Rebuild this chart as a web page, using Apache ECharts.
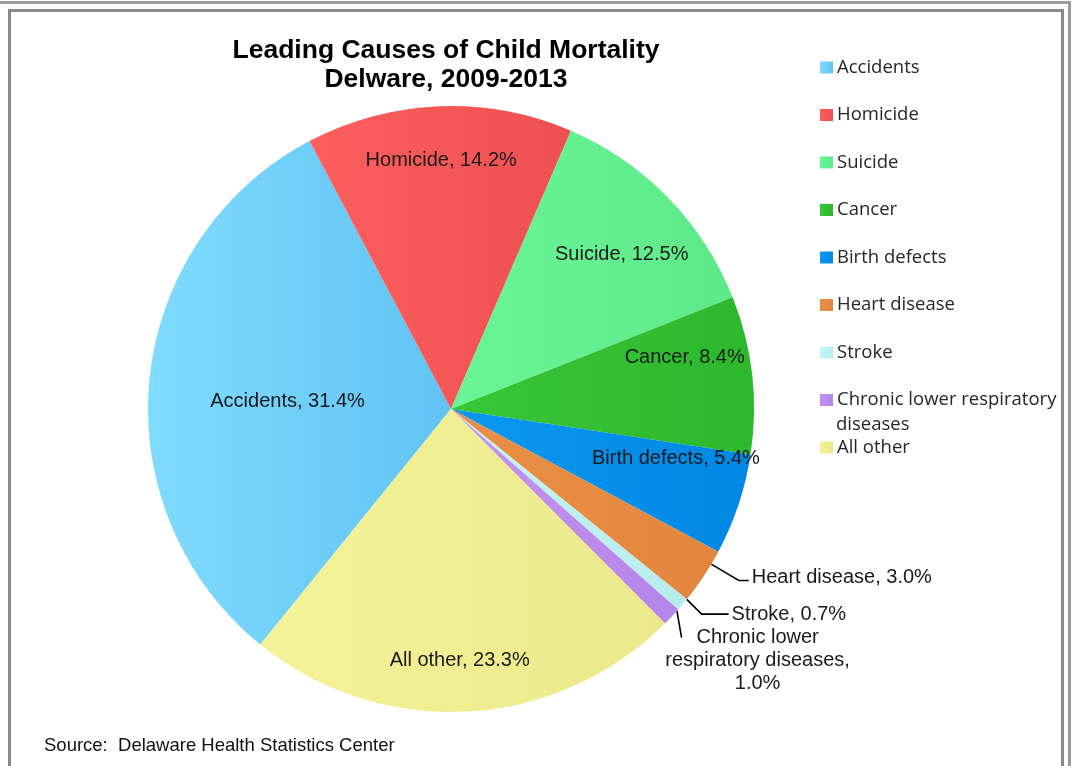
<!DOCTYPE html>
<html>
<head>
<meta charset="utf-8">
<script src="https://cdn.jsdelivr.net/npm/echarts@6/dist/echarts.min.js"></script>
<style>
html,body{margin:0;padding:0;background:#fff;}
#chart{width:1073px;height:766px;}
</style>
</head>
<body>
<div id="chart"></div>
<script>
// ---- data ----
const categories = ['Accidents', 'Homicide', 'Suicide', 'Cancer', 'Birth defects', 'Heart disease', 'Stroke', 'Chronic lower respiratory diseases', 'All other'];
const percentValues = [31.4, 14.2, 12.5, 8.4, 5.4, 3.0, 0.7, 1.0, 23.3];
const titleLines = ['Leading Causes of Child Mortality', 'Delware, 2009-2013'];
const sourceText = 'Source:  Delaware Health Statistics Center';

// ---- styles / layout ----
const sliceColors = [
  ['#7fdbff', '#62c3f3'],
  ['#fd5f5f', '#ee4f50'],
  ['#6af697', '#5de98a'],
  ['#37c737', '#2db82d'],
  ['#0a98f2', '#0087e4'],
  ['#ea9046', '#e2863d'],
  ['#c6f4f4', '#b8ecec'],
  ['#c493f2', '#b685e8'],
  ['#f4f39a', '#ebe98b']
];
const CX = 451, CY = 409, R = 303, START = 231;
const labelFont = 'Liberation Sans, Arial, sans-serif';
const legendFont = '"Open Sans", "Noto Sans", sans-serif';
// inside labels: [radial fraction, angular tweak in degrees (ccw)]
const insideLabelPlace = {
  'Accidents': [0.54, 3],
  'Homicide': [0.82, 0],
  'Suicide': [0.76, -2],
  'Cancer': [0.79, 6],
  'Birth defects': [0.76, 6],
  'All other': [0.83, -1]
};
// outside labels: anchor fraction within slice, leader direction, segment lengths, text offset
const outsideLabelPlace = {
  'Heart disease': { f: 0.25, dir: null, len: 32, len2: 10, tx: 3, ty: -3, align: 'left' },
  'Stroke': { f: 0.0, dir: -45, len: 21, len2: 27, tx: 3, ty: 0, align: 'left' },
  'Chronic lower respiratory diseases': { f: 0.1, dir: -80, len: 27, len2: 0, tx: 76, ty: 23, align: 'center' }
};

const total = percentValues.reduce((a, b) => a + b, 0);
function sliceAngles(i) {
  let cum = 0;
  for (let k = 0; k < i; k++) cum += percentValues[k];
  const a0 = START - cum / total * 360;
  return [a0, a0 - percentValues[i] / total * 360];
}
const rad = Math.PI / 180;

const seriesData = categories.map((name, i) => {
  const item = {
    name: name,
    value: percentValues[i],
    itemStyle: {
      color: new echarts.graphic.LinearGradient(0, 0, 1, 0, [
        { offset: 0, color: sliceColors[i][0] },
        { offset: 1, color: sliceColors[i][1] }
      ])
    }
  };
  if (outsideLabelPlace[name]) {
    item.label = { position: 'outside' };
    item.labelLine = { show: true };
  } else {
    item.label = { position: 'inside' };
    item.labelLine = { show: false };
  }
  return item;
});

const chart = echarts.init(document.getElementById('chart'), null, { renderer: 'canvas' });
const option = {
  backgroundColor: '#ffffff',
  animation: false,
  title: [
    {
      text: titleLines.join('\n'),
      left: 441,
      top: 31.5,
      textAlign: 'center',
      textStyle: { fontFamily: labelFont, fontWeight: 'bold', fontSize: 26.5, lineHeight: 29, color: '#000' }
    },
    {
      text: sourceText,
      left: 39,
      top: 730,
      textStyle: { fontFamily: labelFont, fontWeight: 'normal', fontSize: 18.5, lineHeight: 22, color: '#111' }
    }
  ],
  legend: {
    orient: 'vertical',
    left: 820,
    top: 58,
    padding: 0,
    itemWidth: 13,
    itemHeight: 12,
    itemGap: 28.5,
    icon: 'rect',
    data: categories,
    formatter: function (name) {
      return name === 'Chronic lower respiratory diseases' ? 'Chronic lower respiratory' : name;
    },
    textStyle: { fontFamily: legendFont, fontSize: 18.5, lineHeight: 18, color: '#262626', padding: [0, 0, 0, -1] }
  },
  graphic: [
    { type: 'rect', left: 0, top: 1, shape: { width: 1070, height: 3 }, style: { fill: '#9a9a9a' }, silent: true },
    { type: 'rect', left: 1068, top: 1, shape: { width: 3, height: 770 }, style: { fill: '#9a9a9a' }, silent: true },
    { type: 'rect', shape: { x: 9.5, y: 10.5, width: 1053, height: 780 }, style: { fill: 'none', stroke: '#8a8a8a', lineWidth: 3 }, silent: true },
    { type: 'text', style: { x: 836, y: 424.5, text: 'diseases', verticalAlign: 'middle', font: '18.5px "Open Sans", "Noto Sans", sans-serif', fill: '#262626' }, silent: true }
  ],
  series: [{
    type: 'pie',
    center: [CX, CY],
    radius: [0, R],
    startAngle: START,
    clockwise: true,
    avoidLabelOverlap: false,
    data: seriesData,
    itemStyle: { borderWidth: 0 },
    label: {
      show: true,
      fontFamily: labelFont,
      fontSize: 20,
      lineHeight: 23,
      color: '#1a1a1a',
      formatter: function (p) {
        const v = p.value.toFixed(1) + '%';
        if (p.name === 'Chronic lower respiratory diseases') {
          return '{c|Chronic lower}\n{c|respiratory diseases,}\n{c|' + v + '}';
        }
        return p.name + ', ' + v;
      },
      rich: {
        c: { align: 'center', fontFamily: labelFont, fontSize: 20, lineHeight: 23, color: '#1a1a1a' }
      }
    },
    labelLine: {
      length: 24,
      length2: 10,
      smooth: false,
      lineStyle: { color: '#000', width: 1.6 }
    },
    labelLayout: function (params) {
      const name = categories[params.dataIndex];
      const inside = insideLabelPlace[name];
      if (inside) {
        const lr = params.labelRect;
        const lx = lr.x + lr.width / 2, ly = lr.y + lr.height / 2;
        const ang = Math.atan2(ly - CY, lx - CX) - inside[1] * rad;
        const rr = R * inside[0];
        return { x: CX + rr * Math.cos(ang), y: CY + rr * Math.sin(ang), align: 'center', verticalAlign: 'middle' };
      }
      const out = outsideLabelPlace[name];
      if (!out) return {};
      const a = sliceAngles(params.dataIndex);
      const anchor = a[0] + (a[1] - a[0]) * out.f;
      const p0 = [CX + R * Math.cos(anchor * rad), CY - R * Math.sin(anchor * rad)];
      const d = out.dir == null ? anchor : out.dir;
      const p1 = [p0[0] + out.len * Math.cos(d * rad), p0[1] - out.len * Math.sin(d * rad)];
      const p2 = [p1[0] + out.len2, p1[1]];
      return {
        x: p2[0] + out.tx,
        y: p2[1] + out.ty,
        align: out.align,
        verticalAlign: 'middle',
        labelLinePoints: [p0, p1, p2]
      };
    },
    emphasis: { disabled: true }
  }]
};
chart.setOption(option);
</script>
</body>
</html>
